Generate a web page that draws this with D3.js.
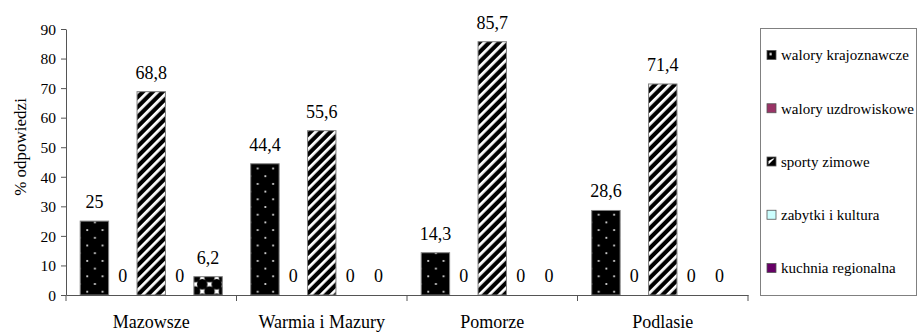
<!DOCTYPE html>
<html>
<head>
<meta charset="utf-8">
<script src="https://cdn.jsdelivr.net/npm/d3@7"></script>
</head>
<body style="margin:0;padding:0;background:#fff;font-family:'Liberation Serif',serif;">
<svg id="chart" width="917" height="332" font-family="Liberation Serif, serif" style="display:block;font-family:'Liberation Serif',serif"></svg>
<script>
const categories = ["Mazowsze", "Warmia i Mazury", "Pomorze", "Podlasie"];
const seriesNames = ["walory krajoznawcze", "walory uzdrowiskowe", "sporty zimowe", "zabytki i kultura", "kuchnia regionalna"];
const walory = [25, 44.4, 14.3, 28.6];
const uzdrowiskowe = [0, 0, 0, 0];
const sporty = [68.8, 55.6, 85.7, 71.4];
const zabytki = [0, 0, 0, 0];
const kuchnia = [6.2, 0, 0, 0];
const yTicks = [0, 10, 20, 30, 40, 50, 60, 70, 80, 90];
const seriesValues = [walory, uzdrowiskowe, sporty, zabytki, kuchnia];
const seriesFill = ["dots", "#993366", "url(#pStripes)", "#CCFFFF", "url(#pCheck)"];
const legendFill = ["url(#lgDots)", "#993366", "url(#lgStripes)", "#CCFFFF", "#660066"];
const FONT = "Liberation Serif";

const svg = d3.select("#chart");
const defs = svg.append("defs");

function txt(sel, size) {
  return sel.attr("font-family", FONT).style("font-family", FONT)
    .attr("font-size", size).style("font-size", size + "px").attr("fill", "#000");
}

const plot = {left: 66, right: 748, top: 29, bottom: 295};

const x0 = d3.scaleBand().domain(categories).range([plot.left, plot.right]).padding(0);
const bw = x0.bandwidth();
const x1 = d3.scaleBand().domain(seriesNames).range([bw / 12, bw - bw / 12]).padding(0);
const y = d3.scaleLinear().domain([0, 90]).range([plot.bottom, plot.top]);

// dotted patterns, one per category, anchored at the bar's left edge
categories.forEach((c, ci) => {
  const bx = x0(c) + x1(seriesNames[0]);
  const p = defs.append("pattern").attr("id", "pDots" + ci).attr("patternUnits", "userSpaceOnUse")
    .attr("width", 15.4).attr("height", 15.4).attr("x", bx).attr("y", plot.bottom - 3.3);
  p.append("rect").attr("width", 15.4).attr("height", 15.4).attr("fill", "#000");
  p.append("rect").attr("x", 6.1).attr("y", -0.9).attr("width", 1.8).attr("height", 1.8).attr("fill", "#ddd");
  p.append("rect").attr("x", 6.1).attr("y", 14.5).attr("width", 1.8).attr("height", 1.8).attr("fill", "#ddd");
  p.append("rect").attr("x", 13.8).attr("y", 6.8).attr("width", 1.8).attr("height", 1.8).attr("fill", "#ddd");
  p.append("rect").attr("x", -1.6).attr("y", 6.8).attr("width", 1.8).attr("height", 1.8).attr("fill", "#ddd");
});

const ps = defs.append("pattern").attr("id", "pStripes").attr("patternUnits", "userSpaceOnUse")
  .attr("width", 7).attr("height", 7).attr("patternTransform", "rotate(45)");
ps.append("rect").attr("width", 7).attr("height", 7).attr("fill", "#000");
ps.append("rect").attr("x", 0).attr("width", 2.8).attr("height", 7).attr("fill", "#fff");

const pc = defs.append("pattern").attr("id", "pCheck").attr("patternUnits", "userSpaceOnUse")
  .attr("width", 14.5).attr("height", 14.5).attr("x", 195).attr("y", 277);
pc.append("rect").attr("width", 14.5).attr("height", 14.5).attr("fill", "#fff");
[[0,0],[14.5,0],[0,14.5],[14.5,14.5],[7.25,7.25]].forEach(([cx,cy]) =>
  pc.append("circle").attr("cx", cx).attr("cy", cy).attr("r", 5.3).attr("fill", "#000"));

const lgd = defs.append("pattern").attr("id", "lgDots").attr("patternUnits", "objectBoundingBox")
  .attr("width", 1).attr("height", 1);
lgd.append("rect").attr("width", 9).attr("height", 9).attr("fill", "#000");
lgd.append("rect").attr("x", 2.5).attr("y", 2.5).attr("width", 2.2).attr("height", 2.2).attr("fill", "#fff");
const lgs = defs.append("pattern").attr("id", "lgStripes").attr("patternUnits", "objectBoundingBox")
  .attr("width", 1).attr("height", 1);
lgs.append("rect").attr("width", 9).attr("height", 9).attr("fill", "#000");
lgs.append("path").attr("d", "M1.5,7.5 L1.5,4 L6,1.5 L7.5,1.5 Z").attr("fill", "#fff");

const yAxis = d3.axisLeft(y).tickValues(yTicks).tickSize(5).tickSizeOuter(0).tickPadding(5);
const gy = svg.append("g").attr("transform", `translate(${plot.left},0)`).call(yAxis);
gy.attr("font-family", FONT).attr("font-size", 15.5);
gy.select(".domain").attr("stroke", "#555");
gy.selectAll(".tick line").attr("stroke", "#555");
txt(gy.selectAll(".tick text"), 15.5).attr("dy", "0.34em");

const data = [];
categories.forEach((c, ci) => {
  seriesNames.forEach((s, si) => {
    data.push({c, ci, s, si, v: seriesValues[si][ci]});
  });
});

const g = svg.append("g");
g.selectAll("rect.bar").data(data.filter(d => d.v > 0)).join("rect")
  .attr("class", "bar")
  .attr("x", d => x0(d.c) + x1(d.s))
  .attr("width", x1.bandwidth())
  .attr("y", d => y(d.v))
  .attr("height", d => y(0) - y(d.v))
  .attr("fill", d => seriesFill[d.si] === "dots" ? `url(#pDots${d.ci})` : seriesFill[d.si])
  .attr("stroke", "#808080")
  .attr("stroke-width", 1);

txt(g.selectAll("text.val").data(data).join("text"), 18)
  .attr("class", "val")
  .attr("x", d => x0(d.c) + x1(d.s) + x1.bandwidth() / 2)
  .attr("y", d => y(d.v) - 13)
  .attr("text-anchor", "middle")
  .text(d => String(d.v).replace(".", ","));

const xAxis = d3.axisBottom(x0).tickSize(0).tickSizeOuter(0).tickPadding(0).tickFormat(() => "");
const gx = svg.append("g").attr("transform", `translate(0,${plot.bottom})`).call(xAxis);
gx.attr("font-family", FONT).attr("font-size", 18);
gx.select(".domain").attr("stroke", "#555");
gx.selectAll(".tick").remove();
const boundaries = categories.map(c => x0(c)).concat([x0(categories[categories.length - 1]) + bw]);
gx.selectAll("line.bt").data(boundaries).join("line")
  .attr("class", "bt")
  .attr("x1", d => d).attr("x2", d => d)
  .attr("y1", 0).attr("y2", 6)
  .attr("stroke", "#555");
txt(gx.selectAll("text.cat").data(categories).join("text"), 18)
  .attr("class", "cat")
  .attr("x", d => x0(d) + bw / 2)
  .attr("y", 33)
  .attr("text-anchor", "middle")
  .text(d => d);

txt(svg.append("text"), 17)
  .attr("transform", `translate(26,147) rotate(-90)`)
  .attr("text-anchor", "middle")
  .text("% odpowiedzi");

const lg = svg.append("g");
lg.append("rect").attr("x", 760.5).attr("y", 28.5).attr("width", 156).attr("height", 267)
  .attr("fill", "#fff").attr("stroke", "#808080");
const legY = d3.scalePoint().domain(seriesNames).range([55, 268]);
const items = lg.selectAll("g.item").data(seriesNames).join("g").attr("class", "item")
  .attr("transform", d => `translate(767,${legY(d)})`);
items.append("rect").attr("x", 0).attr("y", -4.5).attr("width", 9).attr("height", 9)
  .attr("fill", (d, i) => legendFill[i]).attr("stroke", "#555").attr("stroke-width", 0.8);
txt(items.append("text"), 15).attr("x", 14).attr("y", 0).attr("dy", "0.35em").text(d => d);
</script>
</body>
</html>
